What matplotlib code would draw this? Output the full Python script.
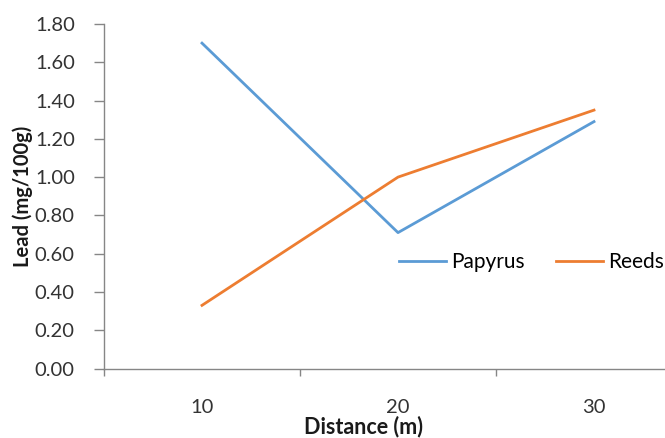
import matplotlib.pyplot as plt
import numpy as np

distance = ['10', '20', '30']
papyrus = [1.70, 0.71, 1.29]
reeds = [0.33, 1.00, 1.35]

plt.rcParams['font.family'] = ['Lato', 'DejaVu Sans']

fig = plt.figure(figsize=(6.65, 4.38), dpi=100)
# plot area runs past the right edge, as in the reference
ax = fig.add_axes([104/665, 1 - 368.5/438, 588/665, 344.5/438])

x = np.arange(1, len(distance) + 1)
ax.plot(x, papyrus, color='#5B9BD5', lw=2, label='Papyrus')
ax.plot(x, reeds, color='#ED7D31', lw=2, label='Reeds')

ax.set_xlim(0.5, 3.5)
ax.set_ylim(0, 1.8)
ax.set_yticks(np.arange(0, 1.81, 0.2))
ax.set_yticklabels([f'{v:.2f}' for v in np.arange(0, 1.81, 0.2)])
ax.set_xticks(x)
ax.set_xticklabels(distance)
ax.set_xticks([0.5, 1.5, 2.5, 3.5], minor=True)
ax.tick_params(axis='x', which='major', length=0, pad=22, labelsize=14.5, colors='#333333')
ax.tick_params(axis='x', which='minor', length=5, color='#868686', width=1)
ax.tick_params(axis='y', length=7, color='#868686', width=1, pad=14, labelsize=14.5, labelcolor='#333333')

for s in ['top', 'right']:
    ax.spines[s].set_visible(False)
for s in ['left', 'bottom']:
    ax.spines[s].set_color('#868686')
    ax.spines[s].set_linewidth(1)

fig.text(23/665, 1 - 196/438, 'Lead (mg/100g)', rotation=90, ha='center', va='center',
         fontsize=14.5, fontweight='bold', color='#1a1a1a')
fig.text(363/665, 1 - 427/438, 'Distance (m)', ha='center', va='center',
         fontsize=15.5, fontweight='bold', color='#1a1a1a')

ax.legend(loc='center right', bbox_to_anchor=(560/588, 0.556/1.8), ncol=2, frameon=False,
          fontsize=15, handlelength=2.25, handletextpad=0.25, columnspacing=1.5,
          borderaxespad=0, borderpad=0)

fig.savefig('out.png', dpi=100)
